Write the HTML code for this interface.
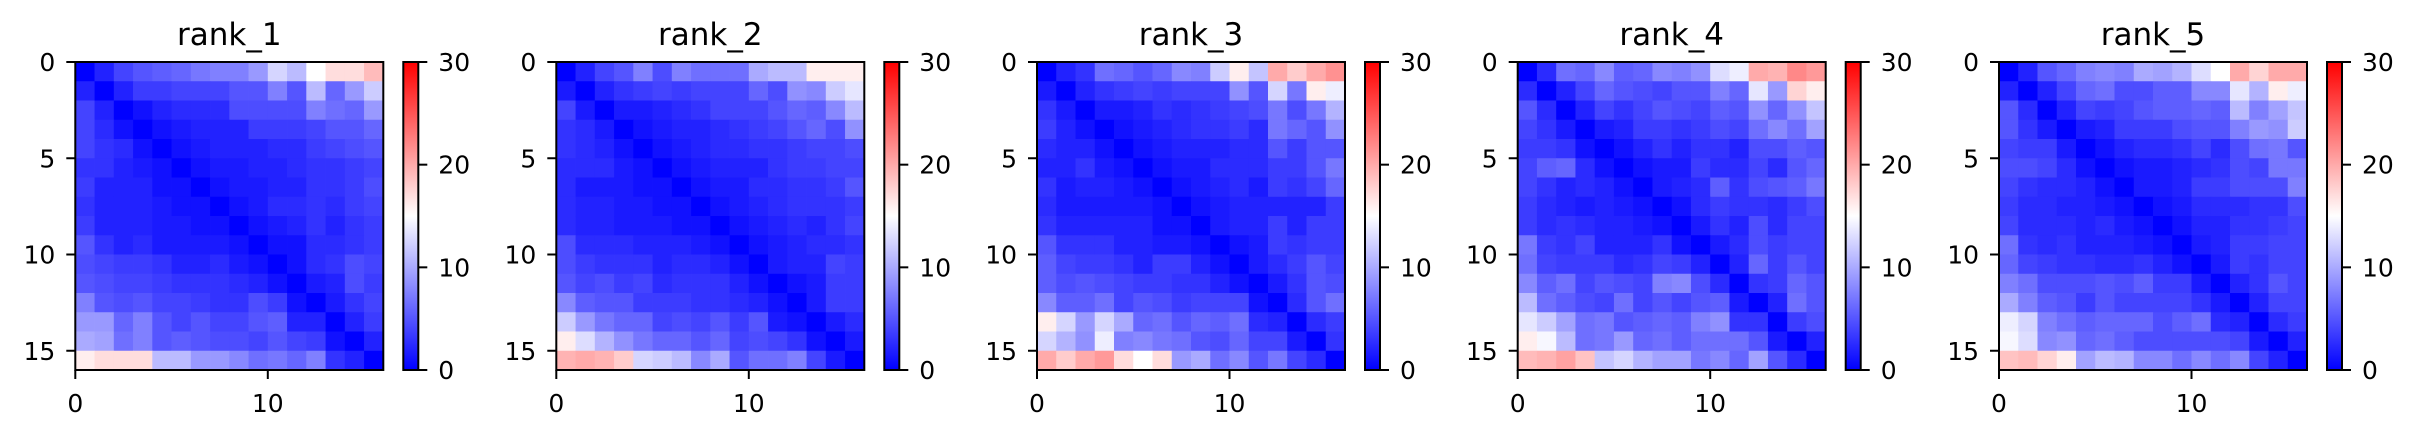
<!DOCTYPE html>
<html><head><meta charset="utf-8">
<style>
html,body{margin:0;padding:0;background:#fff;}
svg{display:block;font-family:"DejaVu Sans","Liberation Sans",sans-serif;}
</style></head>
<body>
<svg id="chart" width="2417" height="438" viewBox="0 0 2417 438" xmlns="http://www.w3.org/2000/svg">
<defs>
<linearGradient id="bwr" x1="0" y1="1" x2="0" y2="0">
<stop offset="0" stop-color="#0000ff"/><stop offset="0.5" stop-color="#ffffff"/><stop offset="1" stop-color="#ff0000"/>
</linearGradient>
</defs>
</svg>
<script>
const panelTitles = ["rank_1","rank_2","rank_3","rank_4","rank_5"];
const vmin = 0, vmax = 30;
const xTicks = [0,10];
const yTicks = [0,5,10,15];
const cbarTicks = [0,10,20,30];
const rank1 = [
[0,2,4,5,5.5,6,7,7.5,7.5,9,12.5,11,15,17,17,19],
[2,0,2,3.5,3.5,4,4,4,5,5,7.5,5,11,6,9,12],
[4,2,0,1,2,2.5,2.5,2.5,4.5,4.5,4.5,4.5,7.5,6.5,6,9],
[4,2.5,1,0,1,1.5,2,2,2,3.5,3.5,3.5,4,5,5,6],
[4,3,2.5,1,0,1,1.5,2,2,2,2.5,2.5,3.5,4,4.5,5],
[3,3,2,1.5,1,0,1,1.5,1.5,2,2,2.5,3,3,3.5,4],
[3.5,2,2,2,1,1,0,1,1.5,1.5,2,2,3,3,3.5,4.5],
[3,2,2,2,1.5,1,1,0,1,1.5,2.5,2.5,3,2.5,3.5,4],
[3.5,2,2,2,1.5,1.5,1,1,0,1,1.5,2,3,2,3,3.5],
[5,3,2,2.5,1.5,1.5,1.5,1.5,1,0,1,1,2.5,2.5,3,3.5],
[4.5,4,3.5,3.5,3,2,2,2.5,1.5,1,0,1,2.5,3,4.5,4],
[5,4.5,4,4,3.5,3,3,3,2.5,2,1,0,1.5,2,4.5,3.5],
[7.5,5,4.5,5,4,4,3.5,3,3,4.5,3.5,1,0,1.5,3,4],
[9,9,6,7.5,5,4,5,4,4,5,5.5,2,2,0,2,3.5],
[10,9.5,6.5,7.5,5,5.5,5,4.5,4.5,4,5,4,3.5,1,0,2],
[16,17,17,17,11,11,9,9,8,6.5,7,6,7.5,3,2,0]];
const rank2 = [
[0,2,4,5,7.5,4.5,7.5,6.5,6.5,6.5,10,11,11,16,16,16],
[1.5,0,2,3,3.5,4,3.5,4,4,4,6,4.5,8.5,8,12,13.5],
[4,1.5,0,1.5,1.5,2,2.5,3,4,4,4,5,6,5.5,8,11],
[3,2.5,1.5,0,1,1.5,2,2,2.5,3,3.5,4,5,6,4.5,8.5],
[3,2.5,2,1,0,1,1.5,2,2.5,2.5,3,3,3.5,4,4,4.5],
[2.5,2.5,2.5,1.5,1,0,1,1.5,2,2,2,3,3.5,3.5,4,4],
[2.5,1.5,1.5,1.5,1,1,0,1,1.5,1.5,2.5,2.5,3,3,3.5,5],
[2.5,2,2,1.5,1.5,1,1,0,1,1.5,2,2.5,3,3,3,3.5],
[2.5,2,2,1.5,1.5,1.5,1,1,0,1,1.5,2,2.5,2,3,4],
[4.5,2.5,2.5,2.5,2,2,2,1.5,1,0,1,1.5,2,2.5,2.5,3],
[4.5,3.5,3,3,3,2,2.5,2.5,2,1,0,1.5,2,2,4,3.5],
[5,4,4.5,3.5,4,2.5,3,3,3,2,1,0,1,1.5,3.5,3.5],
[8,5.5,5,5,3.5,3.5,3.5,3,3,2.5,2,1,0,1.5,3.5,3.5],
[12,9,7,6,6,4,4.5,4,5,3.5,5,1.5,1,0,1.5,2.5],
[16,13,10.5,8.5,7,6,6,5,6,4,4.5,4,3,1,0,1.5],
[19.5,20,19.5,18,12.5,12,11,8,10,5,6.5,6.5,7.5,4,1.5,0]];
const rank3 = [
[0,2,3,6.5,6,5,6,8,7.5,12,16,11.5,20,18,20,21.5],
[1.5,0,2,3,3.5,4,3.5,4,4,4,8.5,5,12.5,7,16,14],
[3,1.5,0,1.5,1.5,2,3,2.5,3,3.5,4,4.5,7,4.5,7,10.5],
[3.5,2,1,0,1,1.5,2,2.5,3,3,3.5,2.5,7,6,5,8.5],
[2.5,2,2,1,0,1,1.5,2,2,2,2.5,2.5,5,3.5,5,5],
[2,2,3,1.5,1,0,1,1.5,1.5,2.5,2.5,2.5,3.5,3.5,5,7],
[3,1.5,2,2,1.5,1,0,1,1.5,2,2.5,1.5,3.5,3,4,6],
[2.5,1.5,1.5,1.5,1.5,1.5,1,0,1,1.5,2,2,2,2,2,3.5],
[3,2,2,2,2,2,1,1,0,1.5,2,2,3.5,2,3.5,3.5],
[5,3,3,3,2,2,1.5,1.5,1,0,1,1.5,3.5,3,3.5,3.5],
[5.5,4,3.5,3.5,3,2,3.5,3.5,2,1,0,1.5,2.5,3.5,5,4],
[5.5,4.5,5,4.5,4,3.5,3.5,3,3,2,1,0,1.5,3,5,4.5],
[8,5.5,5.5,6.5,4,5,4.5,3.5,4,4,4,1,0,2.5,5,6.5],
[16,12.5,9,12.5,10,6,6.5,5,6,5.5,6.5,2.5,2,0,2.5,3.5],
[12.5,10.5,8.5,14,7.5,8,7,6.5,5,4.5,6,4,4,1.5,0,3],
[20,18,20,21,17,15,17,9,10,6.5,8,5,7,4,2.5,0]];
const rank4 = [
[0,2.5,6.5,6,8,5.5,6,8,7.5,8.5,13,14,20,19.5,22,21],
[2.5,0,2,4,6,5,4.5,4,5,5,7.5,6,13.5,9,17.5,16],
[5,2.5,0,2,4,3,4,5,4.5,4,5.5,5,8.5,6,8.5,11.5],
[4,3,1.5,0,1.5,2,3.5,3.5,3,3.5,4.5,4,6.5,8,6.5,9.5],
[3.5,3.5,3,1,0,1,2,3,2,3,3,2,4.5,4.5,5.5,5],
[4,5.5,6,2.5,1,0,1,1.5,1.5,3.5,2.5,2.5,4,2.5,5,6],
[4,3,2,2.5,2,1,0,1.5,2,2.5,5.5,3,4.5,5,5.5,7],
[3.5,2.5,2,1.5,2,1.5,1,0,1,2.5,3.5,3,3,2.5,3.5,4.5],
[3.5,2.5,3,2.5,2,2,1.5,1,0,1.5,3,2,4.5,2.5,4,4],
[7,3.5,3,4,2,2,2,3,1,0,1.5,2.5,4.5,3.5,4,4],
[6.5,4,3.5,3.5,3.5,2.5,3,4,3.5,2,0,2,6,3.5,5,4],
[8,5.5,6.5,4,5,4.5,4,7.5,8,4.5,2.5,0,3,3.5,6,5],
[11,6.5,5.5,4.5,4,6.5,4,5,4,5,5.5,1.5,0,2,6.5,5],
[13.5,12,9.5,6.5,7,5,5.5,6,5.5,7.5,8.5,3,3,0,3.5,4.5],
[16,14.5,11,6.5,7,9,6,6.5,5.5,6.5,6.5,6.5,5,1.5,0,2],
[19,19.5,20.5,18.5,11.5,12.5,10.5,9.5,9.5,7,8,6,9.5,5,2.5,0]];
const rank5 = [
[0,2,5,6,7.5,8,7.5,10,9.5,10.5,13,15,20,17.5,20,20],
[2,0,2,4,6,6.5,4.5,4.5,5.5,5.5,8,8,13.5,10.5,16,14],
[5,2.5,0,2,4,3.5,4,5,5.5,5.5,6,5.5,11,7.5,9.5,11.5],
[5,3,1.5,0,1.5,2,3.5,3.5,3.5,4.5,5,5,7.5,9,8.5,12],
[4,3.5,3.5,1.5,0,1,2,2.5,2.5,3,4,2.5,4.5,6.5,7,5],
[4.5,4.5,4,2.5,1,0,1,1.5,1.5,2,2.5,3,4.5,4,7,7],
[4,3,2.5,2.5,2,1,0,1.5,1.5,2,3.5,3.5,4.5,4.5,4.5,7.5],
[3.5,2.5,2.5,2,2,1.5,1,0,1,1.5,2.5,2.5,2.5,3,3,4.5],
[4,2.5,2.5,2.5,2,2.5,1.5,1,0,1,2,2,3,3,3.5,4],
[6.5,3,2.5,3,2,2,2,1.5,1,0,1.5,2,3.5,3.5,4,4],
[6,4,3.5,3,3,2.5,2.5,3,2,1,0,1.5,3.5,3,4,4],
[7.5,6.5,4.5,4.5,4.5,5,4.5,5.5,3.5,3.5,1.5,0,2,3,5,4],
[10,7.5,5.5,5,3.5,5,4,4,4,4,3,1.5,0,2,4,4],
[14,12.5,7.5,6.5,5.5,6,6,6,4.5,5.5,6.5,2.5,2,0,2.5,3.5],
[14.5,13,8,8.5,6,6.5,5.5,4.5,4.5,4.5,4.5,4.5,4,1.5,0,2],
[18.5,19,17.5,16,9.5,11,10.5,8,8,6.5,8,6.5,8,4,2,0]];
const panelData = [rank1, rank2, rank3, rank4, rank5];

const NS = "http://www.w3.org/2000/svg";
const svg = document.getElementById("chart");
const axLefts = [75.3, 556.3, 1037, 1517.7, 1999];
const axTop = 62, axSize = 308, nCells = 16;
const cbOff = 328, cbW = 15;
function bwr(v){
  let t = Math.max(0, Math.min(1, (v - vmin) / (vmax - vmin)));
  let r,g,b;
  if (t < 0.5){ r = g = Math.round(510*t); b = 255; }
  else { r = 255; g = b = Math.round(510*(1-t)); }
  return `rgb(${r},${g},${b})`;
}
function mk(tag, attrs, parent){
  const e = document.createElementNS(NS, tag);
  for (const k in attrs) e.setAttribute(k, attrs[k]);
  (parent||svg).appendChild(e);
  return e;
}
panelData.forEach((mat, p) => {
  const L = axLefts[p];
  const xs = v => L + v / nCells * axSize;
  const ys = v => axTop + v / nCells * axSize;
  const cs = v => axTop + axSize - (v - vmin) / (vmax - vmin) * axSize;
  const g = mk("g", {});
  
  
  mat.forEach((row, i) => row.forEach((v, j) => {
    const r = mk("rect", {x: xs(j), y: ys(i), width: xs(j+1)-xs(j)+0.4, height: ys(i+1)-ys(i)+0.4, fill: bwr(v)}, g);
    
    
  }));
  const fr = mk("rect", {x: L, y: axTop, width: axSize, height: axSize, fill: "none", stroke: "#000", "stroke-width": 2}, g);
  
  
  const t = mk("text", {x: L + axSize/2, y: 45, "text-anchor": "middle", "font-size": 31}, g);
  t.textContent = panelTitles[p];
  
  
  xTicks.forEach(v => {
    mk("line", {x1: xs(v), x2: xs(v), y1: axTop+axSize, y2: axTop+axSize+9, stroke: "#000", "stroke-width": 2}, g);
    const tx = mk("text", {x: xs(v), y: 412, "text-anchor": "middle", "font-size": 25}, g);
    tx.textContent = v;
    
    
  });
  yTicks.forEach(v => {
    mk("line", {x1: L-9, x2: L, y1: ys(v), y2: ys(v), stroke: "#000", "stroke-width": 2}, g);
    const ty = mk("text", {x: L-20, y: ys(v)+9, "text-anchor": "end", "font-size": 25}, g);
    ty.textContent = v;
    
    
  });
  const cx = L + cbOff;
  const cb = mk("rect", {x: cx, y: axTop, width: cbW, height: axSize, fill: "url(#bwr)", stroke: "#000", "stroke-width": 2}, g);
  
  
  cbarTicks.forEach(v => {
    mk("line", {x1: cx+cbW, x2: cx+cbW+9, y1: cs(v), y2: cs(v), stroke: "#000", "stroke-width": 2}, g);
    const tc = mk("text", {x: cx+cbW+20, y: cs(v)+9, "text-anchor": "start", "font-size": 25}, g);
    tc.textContent = v;
    
    
  });
});
</script>
</body></html>
